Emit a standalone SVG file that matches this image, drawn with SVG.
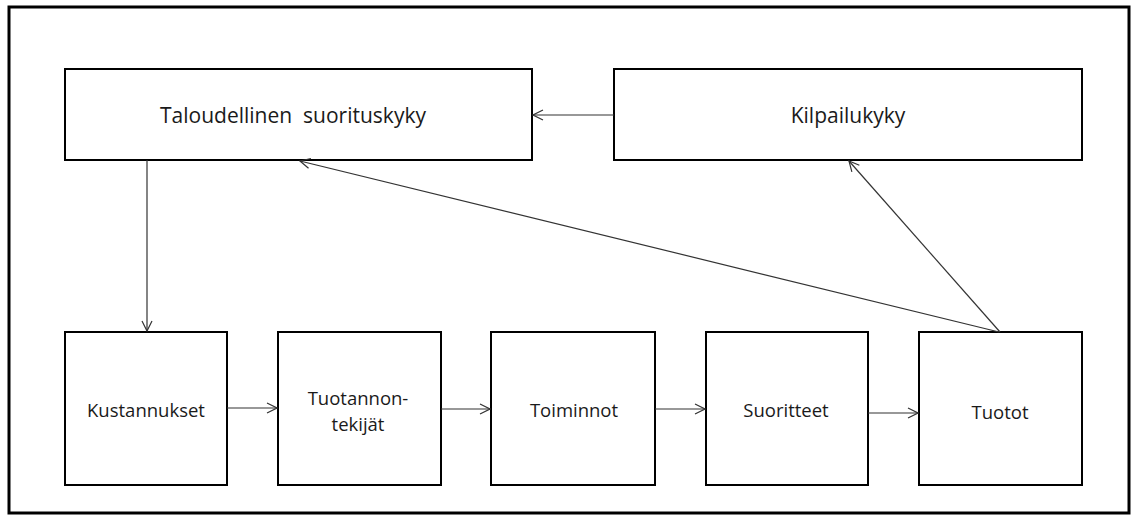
<svg xmlns="http://www.w3.org/2000/svg" width="1138" height="522" viewBox="0 0 1138 522">
  <style>
    .frame { fill: #fff; stroke: #000; stroke-width: 3; }
    .box { fill: #fff; stroke: #000; stroke-width: 2; }
    .lbl { font-family: "Open Sans", "Noto Sans", sans-serif; fill: #1a1a1a; text-anchor: middle; }
    .big { font-size: 21px; }
    .small { font-size: 18.5px; }
    .conn { stroke: #333; stroke-width: 1.2; fill: none; marker-end: url(#open); }
  </style>
  <defs>
    <marker id="open" viewBox="0 0 12 12" refX="11" refY="6" markerWidth="12" markerHeight="12" markerUnits="userSpaceOnUse" orient="auto">
      <path d="M1,1 L11,6 L1,11" fill="none" stroke="#333" stroke-width="1.2"/>
    </marker>
  </defs>

  <rect x="0" y="0" width="1138" height="522" fill="#fff"/>
  <rect class="frame" x="9" y="7" width="1120" height="506"/>

  <g id="taloudellinen">
    <rect class="box" x="65" y="69" width="467" height="91"/>
    <text class="lbl big" x="293" y="123">Taloudellinen&#160; suorituskyky</text>
  </g>
  <g id="kilpailukyky">
    <rect class="box" x="614" y="69" width="468" height="91"/>
    <text class="lbl big" x="848" y="123">Kilpailukyky</text>
  </g>
  <g id="kustannukset">
    <rect class="box" x="65" y="332" width="162" height="153"/>
    <text class="lbl small" x="146" y="417">Kustannukset</text>
  </g>
  <g id="tuotannontekijat">
    <rect class="box" x="278" y="332" width="163" height="153"/>
    <text class="lbl small" x="358" y="405">Tuotannon-</text>
    <text class="lbl small" x="358" y="431">tekijät</text>
  </g>
  <g id="toiminnot">
    <rect class="box" x="491" y="332" width="164" height="153"/>
    <text class="lbl small" x="574" y="417">Toiminnot</text>
  </g>
  <g id="suoritteet">
    <rect class="box" x="706" y="332" width="162" height="153"/>
    <text class="lbl small" x="786" y="417">Suoritteet</text>
  </g>
  <g id="tuotot">
    <rect class="box" x="919" y="332" width="163" height="153"/>
    <text class="lbl small" x="1000" y="419">Tuotot</text>
  </g>

  <g id="connectors">
    <line class="conn" x1="614" y1="115" x2="533" y2="115"/>
    <line class="conn" x1="147" y1="160" x2="147" y2="331"/>
    <line class="conn" x1="227" y1="408" x2="277" y2="408"/>
    <line class="conn" x1="441" y1="409" x2="490" y2="409"/>
    <line class="conn" x1="655" y1="409" x2="705" y2="409"/>
    <line class="conn" x1="868" y1="413" x2="918" y2="413"/>
    <line class="conn" x1="999" y1="332" x2="300" y2="161"/>
    <line class="conn" x1="1000" y1="332" x2="849" y2="161"/>
  </g>
</svg>
